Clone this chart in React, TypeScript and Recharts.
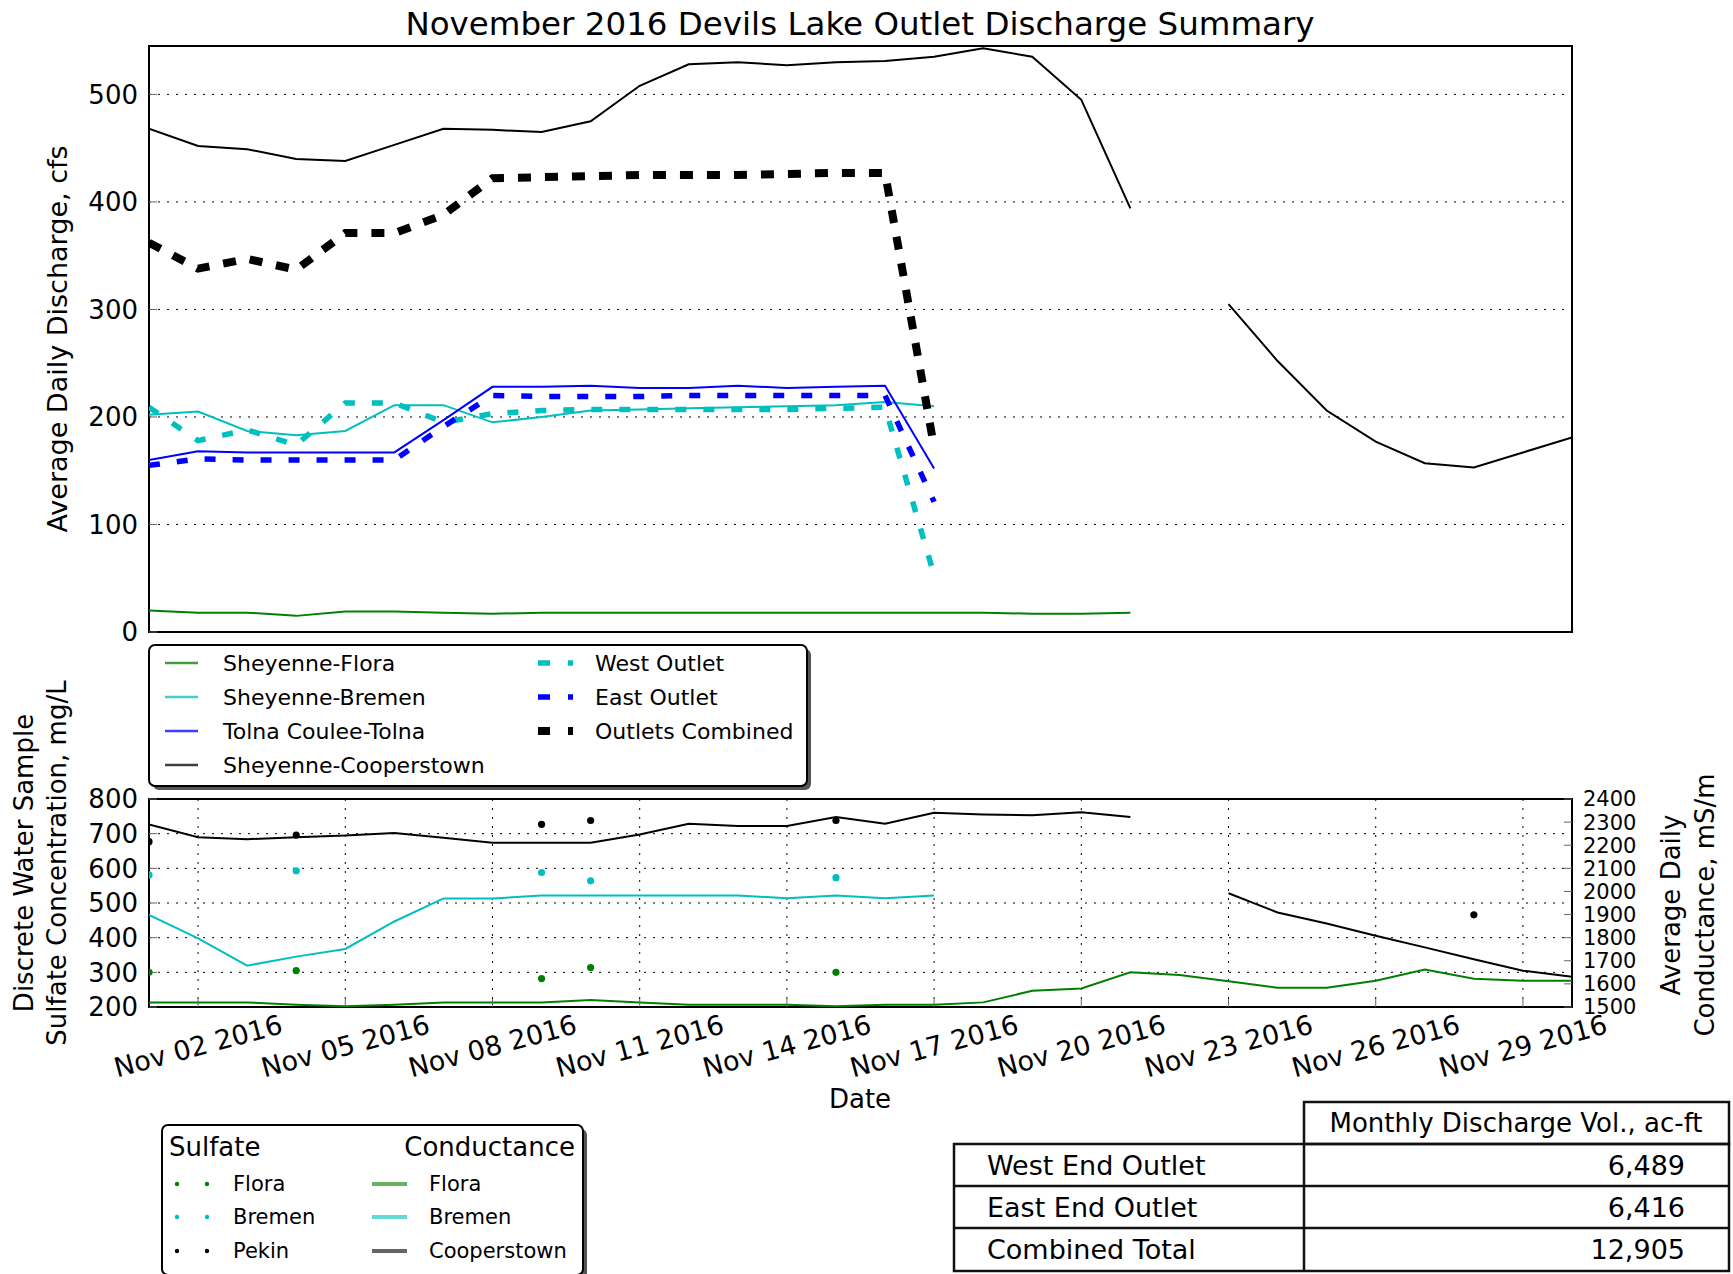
import React from "react"
import {
  ComposedChart,
  Line,
  Scatter,
  XAxis,
  YAxis,
  CartesianGrid,
  ReferenceArea,
} from "recharts"

const FONT = "'DejaVu Sans', 'Liberation Sans', sans-serif"

// days of November 2016
const days = [1, 2, 3, 4, 5, 6, 7, 8, 9, 10, 11, 12, 13, 14, 15, 16, 17, 18, 19, 20, 21, 22, 23, 24, 25, 26, 27, 28, 29, 30]
const majorTicks = [2, 5, 8, 11, 14, 17, 20, 23, 26, 29]
const majorTickLabels = [
  "Nov 02 2016", "Nov 05 2016", "Nov 08 2016", "Nov 11 2016", "Nov 14 2016",
  "Nov 17 2016", "Nov 20 2016", "Nov 23 2016", "Nov 26 2016", "Nov 29 2016",
]
const minorTicks = [7, 12, 22, 27]
const dischargeTicks = [0, 100, 200, 300, 400, 500]
const sulfateTicks = [200, 300, 400, 500, 600, 700, 800]
const conductanceTicks = [1500, 1600, 1700, 1800, 1900, 2000, 2100, 2200, 2300, 2400]

// average daily discharge, cfs
const floraQ = [20, 18, 18, 15, 19, 19, 18, 17, 18, 18, 18, 18, 18, 18, 18, 18, 18, 18, 17, 17, 18, null, null, null, null, null, null, null, null, null]
const bremenQ = [202, 205, 187, 183, 187, 211, 211, 195, 200, 206, 207, 208, 209, 210, 211, 214, 210, null, null, null, null, null, null, null, null, null, null, null, null, null]
const tolnaQ = [160, 168, 167, 167, 167, 167, 197, 228, 228, 229, 227, 227, 229, 227, 228, 229, 152, null, null, null, null, null, null, null, null, null, null, null, null, null]
const cooperstownQ = [468, 452, 449, 440, 438, 453, 468, 467, 465, 475, 508, 528, 530, 527, 530, 531, 535, 543, 535, 495, 394, null, 305, 252, 206, 177, 157, 153, 167, 181]
const westQ = [209, 178, 188, 174, 213, 213, 195, 203, 206, 207, 207, 207, 207, 207, 208, 209, 53, null, null, null, null, null, null, null, null, null, null, null, null, null]
const eastQ = [155, 161, 160, 160, 160, 160, 191, 220, 219, 219, 219, 220, 220, 220, 220, 220, 121, null, null, null, null, null, null, null, null, null, null, null, null, null]
const combinedQ = [362, 338, 347, 337, 371, 371, 388, 422, 423, 424, 425, 425, 425, 426, 427, 427, 172, null, null, null, null, null, null, null, null, null, null, null, null, null]

// average daily conductance, mS/m
const floraCond = [1520, 1520, 1520, 1510, 1503, 1510, 1520, 1520, 1520, 1530, 1520, 1510, 1510, 1510, 1503, 1510, 1510, 1520, 1570, 1580, 1650, 1638, 1611, 1583, 1583, 1614, 1662, 1622, 1614, 1614]
const bremenCond = [1899, 1797, 1679, 1718, 1751, 1870, 1970, 1970, 1982, 1982, 1982, 1982, 1982, 1971, 1982, 1971, 1982, null, null, null, null, null, null, null, null, null, null, null, null, null]
const cooperstownCond = [2290, 2235, 2226, 2235, 2242, 2253, 2232, 2211, 2211, 2211, 2246, 2293, 2283, 2283, 2322, 2293, 2340, 2333, 2330, 2343, 2322, null, 1992, 1909, 1861, 1808, 1758, 1707, 1657, 1631]

// discrete sulfate samples, mg/L
const sampleDays = [1, 4, 9, 10, 15]
const floraSulfate = [300, 305, 282, 314, 300]
const bremenSulfate = [581, 593, 588, 564, 573]
const pekinDays = [1, 4, 9, 10, 15, 28]
const pekinSulfate = [677, 696, 727, 738, 738, 466]

// monthly volume table
const tableRows = ["West End Outlet", "East End Outlet", "Combined Total"]
const tableValues = ["6,489", "6,416", "12,905"]

const dischargeRows = days.map((d, i) => ({
  day: d,
  flora: floraQ[i],
  bremen: bremenQ[i],
  tolna: tolnaQ[i],
  cooperstown: cooperstownQ[i],
  west: westQ[i],
  east: eastQ[i],
  combined: combinedQ[i],
}))

const conductanceRows = days.map((d, i) => ({
  day: d,
  flora: floraCond[i],
  bremen: bremenCond[i],
  cooperstown: cooperstownCond[i],
}))

const floraPts = sampleDays.map((d, i) => ({ day: d, v: floraSulfate[i] }))
const bremenPts = sampleDays.map((d, i) => ({ day: d, v: bremenSulfate[i] }))
const pekinPts = pekinDays.map((d, i) => ({ day: d, v: pekinSulfate[i] }))

const GREEN = "#008000"
const CYAN = "#00bfbf"
const BLUE = "#0000ff"
const BLACK = "#000000"

const tickStyle = { fontSize: 26, fill: "#000", fontFamily: FONT }
const rightTickStyle = { fontSize: 21, fill: "#000", fontFamily: FONT }

const DateTick = (props: any) => {
  const { x, y, payload } = props
  const label = majorTickLabels[majorTicks.indexOf(payload.value)]
  return (
    <g transform={`translate(${x},${y + 39})`}>
      <text
        textAnchor="middle"
        dominantBaseline="central"
        transform="rotate(-15)"
        fontSize={27}
        fontFamily={FONT}
        fill="#000"
      >
        {label}
      </text>
    </g>
  )
}

const dot = (color: string) => (props: any) =>
  <circle cx={props.cx} cy={props.cy} r={3.6} fill={color} />

function DischargeChart() {
  return (
    <ComposedChart width={1733} height={700} data={dischargeRows} margin={{ top: 45, right: 160, bottom: 66, left: 89 }}>
      <CartesianGrid stroke="#000" strokeDasharray="2 7" strokeWidth={1} />
      <XAxis dataKey="day" type="number" domain={[1, 30]} ticks={majorTicks} interval={0} tick={false} tickSize={-8} axisLine={false} height={1} allowDataOverflow />
      <XAxis xAxisId="minor" dataKey="day" type="number" domain={[1, 30]} ticks={minorTicks} interval={0} tick={false} tickSize={-8} axisLine={false} height={1} />
      <XAxis xAxisId="top" orientation="top" dataKey="day" type="number" domain={[1, 30]} ticks={[...majorTicks, ...minorTicks]} interval={0} tick={false} tickSize={-8} axisLine={false} height={1} />
      <YAxis domain={[0, 545]} ticks={dischargeTicks} interval={0} tick={tickStyle} tickSize={-8} tickMargin={19} axisLine={false} width={60} allowDataOverflow />
      <YAxis yAxisId="r" orientation="right" domain={[0, 545]} ticks={dischargeTicks} interval={0} tick={false} tickSize={-8} axisLine={false} width={1} />
      <Line dataKey="flora" stroke={GREEN} strokeWidth={2} dot={false} isAnimationActive={false} />
      <Line dataKey="bremen" stroke={CYAN} strokeWidth={2} dot={false} isAnimationActive={false} />
      <Line dataKey="tolna" stroke={BLUE} strokeWidth={2} dot={false} isAnimationActive={false} />
      <Line dataKey="cooperstown" stroke={BLACK} strokeWidth={2} dot={false} isAnimationActive={false} />
      <Line dataKey="west" stroke={CYAN} strokeWidth={5.5} strokeDasharray="11 17" dot={false} isAnimationActive={false} />
      <Line dataKey="east" stroke={BLUE} strokeWidth={5.5} strokeDasharray="11 17" dot={false} isAnimationActive={false} />
      <Line dataKey="combined" stroke={BLACK} strokeWidth={8} strokeDasharray="13 14" dot={false} isAnimationActive={false} />
      <ReferenceArea x1={1} x2={30} y1={0} y2={545} fill="none" stroke="#000" strokeWidth={2} ifOverflow="visible" />
    </ComposedChart>
  )
}

function QualityChart() {
  return (
    <ComposedChart width={1733} height={380} data={conductanceRows} margin={{ top: 38, right: 91, bottom: 131, left: 89 }}>
      <CartesianGrid stroke="#000" strokeDasharray="2 7" strokeWidth={1} />
      <XAxis dataKey="day" type="number" domain={[1, 30]} ticks={majorTicks} interval={0} tick={<DateTick />} tickSize={-8} tickMargin={8} axisLine={false} height={1} allowDataOverflow />
      <XAxis xAxisId="minor" dataKey="day" type="number" domain={[1, 30]} ticks={minorTicks} interval={0} tick={false} tickSize={-8} axisLine={false} height={1} />
      <XAxis xAxisId="top" orientation="top" dataKey="day" type="number" domain={[1, 30]} ticks={[...majorTicks, ...minorTicks]} interval={0} tick={false} tickSize={-8} axisLine={false} height={1} />
      <YAxis domain={[200, 800]} ticks={sulfateTicks} interval={0} tick={tickStyle} tickSize={-8} tickMargin={19} axisLine={false} width={60} allowDataOverflow />
      <YAxis yAxisId="cond" orientation="right" domain={[1500, 2400]} ticks={conductanceTicks} interval={0} tick={rightTickStyle} tickSize={-8} tickMargin={19} axisLine={false} width={70} allowDataOverflow />
      <Line yAxisId="cond" dataKey="flora" stroke={GREEN} strokeWidth={2} dot={false} isAnimationActive={false} />
      <Line yAxisId="cond" dataKey="bremen" stroke={CYAN} strokeWidth={2} dot={false} isAnimationActive={false} />
      <Line yAxisId="cond" dataKey="cooperstown" stroke={BLACK} strokeWidth={2} dot={false} isAnimationActive={false} />
      <Scatter data={floraPts} dataKey="v" shape={dot(GREEN)} isAnimationActive={false} />
      <Scatter data={bremenPts} dataKey="v" shape={dot(CYAN)} isAnimationActive={false} />
      <Scatter data={pekinPts} dataKey="v" shape={dot(BLACK)} isAnimationActive={false} />
      <ReferenceArea x1={1} x2={30} y1={200} y2={800} fill="none" stroke="#000" strokeWidth={2} ifOverflow="visible" />
    </ComposedChart>
  )
}

function Overlay() {
  const t = { fontFamily: FONT, fill: "#000" }
  const legendRows = [663, 697, 731, 765]
  const leftItems = [
    { name: "Sheyenne-Flora", color: GREEN },
    { name: "Sheyenne-Bremen", color: CYAN },
    { name: "Tolna Coulee-Tolna", color: BLUE },
    { name: "Sheyenne-Cooperstown", color: BLACK },
  ]
  const rightItems = [
    { name: "West Outlet", color: CYAN, w: 5.5 },
    { name: "East Outlet", color: BLUE, w: 5.5 },
    { name: "Outlets Combined", color: BLACK, w: 8 },
  ]
  const l2Rows = [1184, 1217, 1251]
  const l2Items = [
    { s: "Flora", c: "Flora", color: GREEN },
    { s: "Bremen", c: "Bremen", color: CYAN },
    { s: "Pekin", c: "Cooperstown", color: BLACK },
  ]
  const rowY = [1165, 1207, 1249]
  return (
    <svg width={1733} height={1274} style={{ position: "absolute", left: 0, top: 0, pointerEvents: "none" }}>
      <text x={860} y={24} textAnchor="middle" dominantBaseline="central" fontSize={32.5} {...t}>
        November 2016 Devils Lake Outlet Discharge Summary
      </text>
      <text transform="translate(57,339) rotate(-90)" textAnchor="middle" dominantBaseline="central" fontSize={27} {...t}>
        Average Daily Discharge, cfs
      </text>
      <text transform="translate(24,863) rotate(-90)" textAnchor="middle" dominantBaseline="central" fontSize={26} {...t}>
        Discrete Water Sample
      </text>
      <text transform="translate(57,863) rotate(-90)" textAnchor="middle" dominantBaseline="central" fontSize={26} {...t}>
        Sulfate Concentration, mg/L
      </text>
      <text transform="translate(1671,905) rotate(-90)" textAnchor="middle" dominantBaseline="central" fontSize={26} {...t}>
        Average Daily
      </text>
      <text transform="translate(1705,905) rotate(-90)" textAnchor="middle" dominantBaseline="central" fontSize={26} {...t}>
        Conductance, mS/m
      </text>
      <text x={860} y={1099} textAnchor="middle" dominantBaseline="central" fontSize={26} {...t}>
        Date
      </text>

      {/* discharge legend */}
      <rect x={153} y={649} width={658} height={141} rx={6} fill="#555" />
      <rect x={149} y={645} width={658} height={141} rx={6} fill="#fff" stroke="#000" strokeWidth={2} />
      {leftItems.map((it, i) => (
        <g key={it.name}>
          <line x1={165} x2={198} y1={legendRows[i]} y2={legendRows[i]} stroke={it.color} strokeWidth={2.5} opacity={0.75} />
          <text x={223} y={legendRows[i]} dominantBaseline="central" fontSize={22} {...t}>{it.name}</text>
        </g>
      ))}
      {rightItems.map((it, i) => (
        <g key={it.name}>
          <line x1={538} x2={573} y1={legendRows[i]} y2={legendRows[i]} stroke={it.color} strokeWidth={it.w} strokeDasharray="12 18" />
          <text x={595} y={legendRows[i]} dominantBaseline="central" fontSize={22} {...t}>{it.name}</text>
        </g>
      ))}

      {/* sample / conductance legend */}
      <rect x={166} y={1129} width={421} height={150} rx={6} fill="#555" />
      <rect x={162} y={1125} width={421} height={150} rx={6} fill="#fff" stroke="#000" strokeWidth={2} />
      <text x={169} y={1147} dominantBaseline="central" fontSize={26} {...t}>Sulfate</text>
      <text x={575} y={1147} textAnchor="end" dominantBaseline="central" fontSize={26} {...t}>Conductance</text>
      {l2Items.map((it, i) => (
        <g key={it.c}>
          <circle cx={177} cy={l2Rows[i]} r={2.2} fill={it.color} />
          <circle cx={207} cy={l2Rows[i]} r={2.2} fill={it.color} />
          <text x={233} y={l2Rows[i]} dominantBaseline="central" fontSize={21} {...t}>{it.s}</text>
          <line x1={372} x2={407} y1={l2Rows[i]} y2={l2Rows[i]} stroke={it.color} strokeWidth={4} opacity={0.6} />
          <text x={429} y={l2Rows[i]} dominantBaseline="central" fontSize={21} {...t}>{it.c}</text>
        </g>
      ))}

      {/* volume table */}
      <g stroke="#111" strokeWidth={2.5} fill="none">
        <rect x={1304} y={1102} width={425} height={42} />
        <rect x={954} y={1144} width={775} height={127} />
        <line x1={954} x2={1729} y1={1186} y2={1186} />
        <line x1={954} x2={1729} y1={1228} y2={1228} />
        <line x1={1304} x2={1304} y1={1144} y2={1271} />
      </g>
      <text x={1516} y={1123} textAnchor="middle" dominantBaseline="central" fontSize={26} {...t}>
        Monthly Discharge Vol., ac-ft
      </text>
      {tableRows.map((r, i) => (
        <g key={r}>
          <text x={987} y={rowY[i]} dominantBaseline="central" fontSize={27} {...t}>{r}</text>
          <text x={1685} y={rowY[i]} textAnchor="end" dominantBaseline="central" fontSize={27} {...t}>{tableValues[i]}</text>
        </g>
      ))}
    </svg>
  )
}

export default function App() {
  return (
    <div style={{ position: "absolute", left: 0, top: 0, width: 1733, height: 1274, background: "#fff", fontFamily: FONT }}>
      <div style={{ position: "absolute", left: 0, top: 0 }}>
        <DischargeChart />
      </div>
      <div style={{ position: "absolute", left: 0, top: 760 }}>
        <QualityChart />
      </div>
      <Overlay />
    </div>
  )
}
